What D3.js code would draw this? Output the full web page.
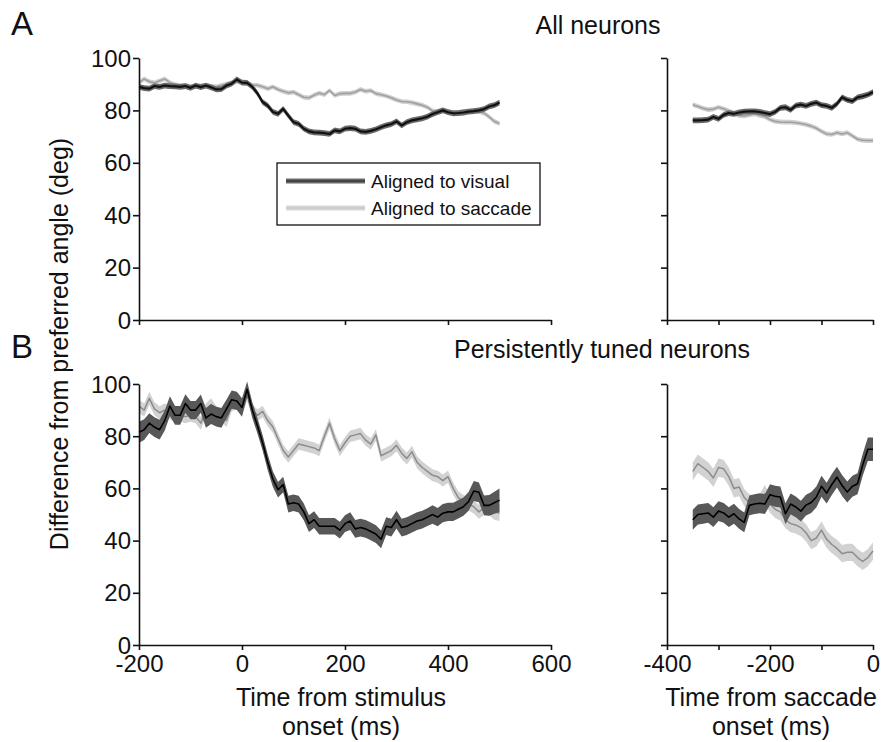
<!DOCTYPE html>
<html><head><meta charset="utf-8">
<script src="https://cdn.jsdelivr.net/npm/d3@7"></script>
<style>
html,body{margin:0;padding:0;background:#fff;}
svg{display:block;font-family:"Liberation Sans",Arial,Helvetica,sans-serif;}
</style></head>
<body><svg id="chart" width="883" height="742"></svg>
<script>
// ---- data ----
const timeStim = d3.range(-200, 501, 10);   // ms from stimulus onset
const timeSacc = d3.range(-350, 1, 10);     // ms from saccade onset

// Panel A: all neurons
const allVisualStim = [89,88.5,88.3,89.3,89,89.5,89.3,89.2,89,89.3,88.6,89.5,88.9,89.5,88.8,88,88.1,89.5,90.2,91.8,90.6,90.5,89,86.5,83.2,81.8,79.4,78.7,80.6,78,75.5,74.9,73,72,71.6,71.5,71.3,71,72.4,72,73,73.2,73,72,71.8,72.2,72.8,73.6,74.3,74.8,75.8,74.3,75.5,76.2,76.6,77,77.6,78.6,79.3,80,79.3,78.9,79,79.2,79.5,79.7,80,80.5,81.5,82,83];
const allSaccadeStim = [90.5,92,91,90.5,91.3,92,90.6,89.8,89.5,89.6,89.2,89,89.5,89.5,89.3,89,89.6,90,90.5,91,90.8,90.5,89.6,89.6,89,88.3,89,88,87.3,86.7,87,86,85,84.8,85.8,86.6,86,87.6,85.7,86.4,86.5,86.5,87,88,87.3,87.6,86.4,86,85.5,84.8,84,83.4,83.3,83,82.5,82,81.2,79.8,79.5,80.2,79.5,79.2,79.3,79.5,79.6,79.8,79.5,79,77.5,75.8,75];
const allVisualSacc = [76.2,76.2,76.3,76.5,77.5,76.8,78.3,79,78.7,79.2,79.5,79.6,79.6,79.4,79,78.6,79.4,81,81.2,80.2,81.8,82.2,81.7,82.5,83,82,81.7,81,82.5,85,84,83.5,85,85.4,86,87];
const allSaccadeSacc = [82.2,81.5,80.8,80.3,80.5,81.2,80.6,79.8,79,78,77.9,78.3,78.7,78.1,77.6,76.5,75.8,75.6,75.5,75.5,75.3,75,74.6,74,73.2,72,71,70.8,71.5,71,71.5,70.3,69,68.6,68.5,68.5];
const semAllVisual = 1.1;
const semAllSaccade = 0.9;

// Panel B: persistently tuned neurons
const ptVisualStim = [81.5,82.5,85,83.5,82.5,86,91.5,88,88,92.5,90,90,92.5,87,88.5,87.5,87,90.5,94,93.5,91,98,90,84,77.5,70,63.5,59.5,61.5,54,54.5,54,51,46.5,48,45.5,45.5,45.5,45.5,44,46.5,47.5,44.5,45,44.5,43.5,42.5,40.5,45.5,45,48,45,45.5,46.5,47.5,48,49,50,49,50.5,51,51,52,53,55,59,58.5,53.5,53.5,54.5,55.5];
const ptSaccadeStim = [91.5,90,94.5,90.5,89,90,89,88,88,87.5,88,87.5,85,90,92,89,88,86,92,93,91,96,90,88,89.5,86,83.5,79,74.5,72,74.5,77,76.5,76,75.5,74.5,80,85,79,74.5,77.5,80,80.5,81,78.5,77,80.5,72.5,73.5,74.5,76.5,73.5,71.5,74,70,68,66.5,65,64.5,63,64.5,60,56.5,55,54,53,51,52.5,52.5,51,50.5];
const ptVisualSacc = [48,50,50.3,50.6,49,51.3,50.6,49,50.3,48.3,47,53.5,54,54.3,54,57.6,57,56.7,50.3,54,52.9,51.3,53.6,54.6,56.7,60.8,58.2,61.5,64.3,61.1,58.6,60.8,61.8,69,75,75];
const ptSaccadeSacc = [66.5,69.5,68,66.5,64,68,67.5,64.5,60,60.5,56.5,54.5,54,54.5,58,54,52,51,48,46.5,46,45,43,40,41,44,40.5,38.5,37,35,35.5,35.5,33.5,32,33.5,36];
const semPtVisualStim = [4,4,3.8,3.8,3.8,3.8,3.8,3.6,3.6,3.6,3.5,3.5,3.5,3.8,3.8,3.8,3.8,3.6,3.5,3.5,3.5,3,3,3,3,3,3,3,3,3.2,3.2,3.2,3.2,3.2,3.2,3.2,3.2,3.2,3.2,3.2,3.2,3.4,3.4,3.4,3.4,3.4,3.4,3.4,3.4,3.4,3.4,3.4,3.4,3.4,3.4,3.4,3.4,3.5,3.5,3.5,3.5,3.5,3.5,3.5,3.6,3.8,3.8,3.8,4,4.2,4.5];
const semPtSaccadeStim = [2.5,2.5,2.5,2.5,2.5,2.5,2.5,2.5,2.5,2.5,2.5,2.5,2.5,2.5,2.5,2.5,2.5,2.5,2.5,2.5,2.5,2.5,2.2,2.2,2.2,2.2,2.2,2.2,2.2,2.2,2.2,2.2,2.2,2.2,2.2,2.2,2.2,2.2,2.2,2.2,2.2,2.2,2.2,2.2,2.2,2.2,2.2,2.2,2.2,2.2,2.3,2.3,2.3,2.3,2.3,2.3,2.3,2.3,2.3,2.3,2.4,2.4,2.4,2.5,2.5,2.6,2.6,2.8,2.8,3,3];
const semPtVisualSacc = [3.8,3.8,3.8,3.8,3.8,3.8,3.8,3.8,3.8,3.8,3.8,3.8,3.8,3.8,3.8,4,4,4,4,4,4,4,4,4,4,4,4,4,4,4,4,4,4,4.2,4.5,4.5];
const semPtSaccadeSacc = [3.5,3.5,3.5,3.5,3.5,3.5,3.5,3.5,3.5,3.5,3.3,3.3,3.3,3.3,3.3,3.3,3.3,3.3,3.3,3.3,3.3,3.3,3.3,3.3,3.3,3.3,3.3,3.3,3.3,3.3,3.3,3.3,3.3,3.3,3.3,3.3];

const yTicks = [0,20,40,60,80,100];
const xTicksStim = [-200,0,200,400,600];
const xTicksSacc = [-400,-300,-200,-100,0];
const xLabelsSacc = {"-400":"-400","-200":"-200","0":"0"};

const legendLabels = ["Aligned to visual","Aligned to saccade"];
const titles = ["All neurons","Persistently tuned neurons"];
const yTitle = "Difference from preferred angle (deg)";
const xTitleStim = ["Time from stimulus","onset (ms)"];
const xTitleSacc = ["Time from saccade","onset (ms)"];

// ---- drawing ----
const svg = d3.select("#chart");
const TICKFONT = 24;
const TITLEFONT = 25;

const xStim = d3.scaleLinear().domain([-200,600]).range([139,551]);
const xSacc = d3.scaleLinear().domain([-400,0]).range([667,873]);
const yA = d3.scaleLinear().domain([0,100]).range([320,58]);
const yB = d3.scaleLinear().domain([0,100]).range([645,384]);

function drawAxes(x, y, xTicks, xLabelFn, yLabels){
  const gx = svg.append("g").attr("transform",`translate(0,${y(0)})`)
    .call(d3.axisBottom(x).tickValues(xTicks).tickSize(5).tickSizeOuter(0).tickPadding(5).tickFormat(xLabelFn));
  const gy = svg.append("g").attr("transform",`translate(${x.range()[0]},0)`)
    .call(d3.axisLeft(y).tickValues(yTicks).tickSize(6).tickSizeOuter(0).tickPadding(2).tickFormat(yLabels ? (d=>String(d)) : ""));
  [gx,gy].forEach(g=>{
    g.selectAll("path.domain").attr("stroke","#111").attr("stroke-width",1.6);
    g.selectAll(".tick line").attr("stroke","#111").attr("stroke-width",1.6);
    g.selectAll(".tick text").attr("font-size",TICKFONT).attr("fill","#111")
      .attr("font-family","'Liberation Sans',Arial,sans-serif");
  });
  gy.selectAll(".tick text").attr("dy","0.34em");
}

function drawSeries(x, y, times, vals, sem, bandColor, lineColor, lineW){
  const data = times.map((t,i)=>({t, v:vals[i], s: Array.isArray(sem)? sem[i] : sem}));
  const area = d3.area().x(d=>x(d.t)).y0(d=>y(d.v-d.s)).y1(d=>y(d.v+d.s));
  const line = d3.line().x(d=>x(d.t)).y(d=>y(d.v));
  svg.append("path").datum(data).attr("d",area).attr("fill",bandColor).attr("stroke","none");
  svg.append("path").datum(data).attr("d",line).attr("fill","none")
    .attr("stroke",lineColor).attr("stroke-width",lineW).attr("stroke-linejoin","round");
}

// Panel A
drawSeries(xStim,yA,timeStim,allSaccadeStim,semAllSaccade,"#d0d0d0","#a0a0a0",1.6);
drawSeries(xStim,yA,timeStim,allVisualStim,semAllVisual,"#6a6a6a","#111",2.2);
drawSeries(xSacc,yA,timeSacc,allSaccadeSacc,semAllSaccade,"#d0d0d0","#a0a0a0",1.6);
drawSeries(xSacc,yA,timeSacc,allVisualSacc,semAllVisual,"#6a6a6a","#111",2.2);
drawAxes(xStim,yA,xTicksStim,()=> "",true);
drawAxes(xSacc,yA,xTicksSacc,()=> "",false);

// Panel B
drawSeries(xStim,yB,timeStim,ptSaccadeStim,semPtSaccadeStim,"#d2d2d2","#8c8c8c",1.5);
drawSeries(xStim,yB,timeStim,ptVisualStim,semPtVisualStim,"#585858","#000",1.6);
drawSeries(xSacc,yB,timeSacc,ptSaccadeSacc,semPtSaccadeSacc,"#d2d2d2","#8c8c8c",1.5);
drawSeries(xSacc,yB,timeSacc,ptVisualSacc,semPtVisualSacc,"#585858","#000",1.6);
drawAxes(xStim,yB,xTicksStim,d=>String(d),true);
drawAxes(xSacc,yB,xTicksSacc,d=> xLabelsSacc[String(d)] || "",false);

// Legend
const lg = svg.append("g");
lg.append("rect").attr("x",277).attr("y",163).attr("width",263).attr("height",62)
  .attr("fill","#fff").attr("stroke","#111").attr("stroke-width",1.3);
const legStyles = [{band:"#6a6a6a",line:"#444"},{band:"#d8d8d8",line:"#cdcdcd"}];
legendLabels.forEach((lab,i)=>{
  const yy = 181 + i*27;
  lg.append("line").attr("x1",286).attr("x2",365).attr("y1",yy).attr("y2",yy)
    .attr("stroke",legStyles[i].band).attr("stroke-width",5);
  lg.append("line").attr("x1",286).attr("x2",365).attr("y1",yy).attr("y2",yy)
    .attr("stroke",legStyles[i].line).attr("stroke-width",2);
  lg.append("text").attr("x",371).attr("y",yy+7).attr("font-size",19).attr("fill","#111").text(lab);
});

// Titles and labels
svg.append("text").attr("x",11).attr("y",35).attr("font-size",33).attr("fill","#111").text("A");
svg.append("text").attr("x",11).attr("y",358).attr("font-size",33).attr("fill","#111").text("B");
svg.append("text").attr("x",598).attr("y",34).attr("text-anchor","middle").attr("font-size",TITLEFONT).attr("fill","#111").text(titles[0]);
svg.append("text").attr("x",602).attr("y",358).attr("text-anchor","middle").attr("font-size",TITLEFONT).attr("fill","#111").text(titles[1]);
svg.append("text").attr("transform","translate(68,344) rotate(-90)").attr("text-anchor","middle")
  .attr("font-size",TITLEFONT).attr("fill","#111").text(yTitle);
xTitleStim.forEach((s,i)=> svg.append("text").attr("x",341).attr("y",706+i*29).attr("text-anchor","middle")
  .attr("font-size",TITLEFONT).attr("fill","#111").text(s));
xTitleSacc.forEach((s,i)=> svg.append("text").attr("x",771).attr("y",706+i*29).attr("text-anchor","middle")
  .attr("font-size",TITLEFONT).attr("fill","#111").text(s));
</script></body></html>
